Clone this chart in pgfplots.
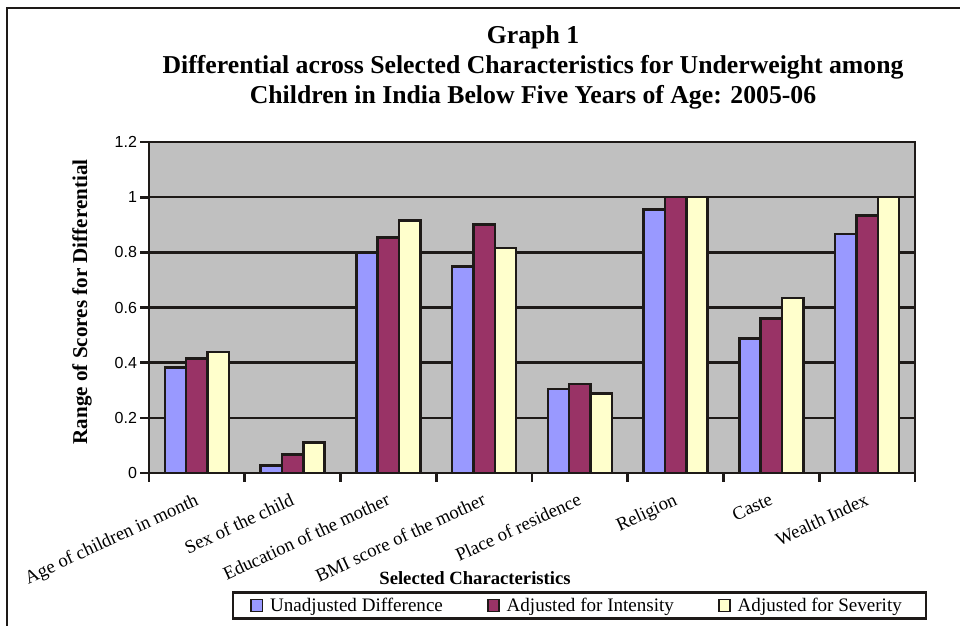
\documentclass[border=0pt]{standalone}
\usepackage{fontspec}
\setmainfont{Liberation Serif}
\newfontfamily\sansf{Liberation Sans}
\usepackage{pgfplots}
\usepackage{pgfplotstable}
\pgfplotsset{compat=1.18}

\definecolor{unadj}{HTML}{9999FF}
\definecolor{intens}{HTML}{993366}
\definecolor{sever}{HTML}{FFFFCC}
\definecolor{plotbg}{HTML}{C0C0C0}
\definecolor{framec}{HTML}{1E1A18}

% x = position of the category, y = range of scores
\pgfplotstableread{
x    unadj  intens sever
0.5  0.382  0.415  0.438
1.5  0.027  0.067  0.110
2.5  0.798  0.853  0.916
3.5  0.749  0.901  0.816
4.5  0.305  0.322  0.288
5.5  0.955  1.000  1.000
6.5  0.488  0.561  0.634
7.5  0.866  0.933  1.000
}\scores

\pgfplotsset{
  sq legend/.style={legend image code/.code={
      \draw[##1, line width=1.3pt] (0pt,-4.5pt) rectangle (8.5pt,4.5pt);}},
}

\begin{document}
\begin{tikzpicture}
\useasboundingbox (0,0) rectangle (720pt,-468.75pt);
% outer frame
\draw[line width=2.2pt, color=framec] (5.25pt,-490pt) -- (5.25pt,-6pt) -- (740pt,-6pt);
% title
\node[font=\bfseries\fontsize{19.3}{22.5}\selectfont, align=center, inner sep=0pt]
  at (399.75pt,-50.25pt)
  {Graph 1\\Differential across Selected Characteristics for Underweight among\\Children in India Below Five Years of Age: 2005-06};

\begin{axis}[
  at={(111.75pt,-354.75pt)}, anchor=south west,
  scale only axis, width=574.5pt, height=248.25pt,
  xmin=0, xmax=8, ymin=0, ymax=1.2,
  axis background/.style={fill=plotbg},
  axis line style={line width=2pt, color=framec},
  ybar=0pt, bar width=16pt,
  ymajorgrids, grid style={line width=1.8pt, color=framec},
  tick align=outside, major tick length=6.5pt,
  tick style={line width=2pt, color=framec},
  xtick pos=bottom, ytick pos=left,
  ytick={0,0.2,0.4,0.6,0.8,1,1.2},
  yticklabels={0,0.2,0.4,0.6,0.8,1,1.2},
  yticklabel style={font=\sansf\fontsize{12}{14}\selectfont, xshift=1pt},
  % tick marks at the category boundaries
  xtick={0,1,2,3,4,5,6,7,8},
  xticklabels={},
  % category names at the category centres
  extra x ticks={0.5,1.5,2.5,3.5,4.5,5.5,6.5,7.5},
  extra x tick labels={Age of children in month, Sex of the child, Education of the mother,
    BMI score of the mother, Place of residence, Religion, Caste, Wealth Index},
  extra x tick style={grid=none, major tick length=0pt,
    tick style={draw=none},
    xticklabel style={rotate=25, anchor=north east, inner sep=0pt,
      font=\fontsize{14}{16}\selectfont, yshift=-12pt, xshift=-8pt}},
  xlabel={Selected Characteristics},
  xlabel style={at={(axis description cs:0.4256,-0.317)}, anchor=center,
    font=\bfseries\fontsize{14}{16}\selectfont},
  ylabel={Range of Scores for Differential},
  ylabel style={at={(axis description cs:-0.0875,0.517)}, anchor=center,
    font=\bfseries\fontsize{15.8}{18}\selectfont},
  legend columns=3,
  legend style={at={(axis description cs:0.562,-0.4003)}, anchor=center,
    draw=framec, line width=1.8pt, font=\fontsize{14.3}{16}\selectfont,
    inner xsep=13pt, inner ysep=2pt,
    nodes={inner xsep=5pt},
    /tikz/every even column/.append style={column sep=28pt}},
  legend cell align=left,
]
\addplot[fill=unadj, draw=framec, line width=1.9pt, sq legend] table[x=x, y=unadj] {\scores};
\addplot[fill=intens, draw=framec, line width=1.9pt, sq legend] table[x=x, y=intens] {\scores};
\addplot[fill=sever, draw=framec, line width=1.9pt, sq legend] table[x=x, y=sever] {\scores};
\legend{Unadjusted Difference, Adjusted for Intensity, Adjusted for Severity}
\end{axis}
\end{tikzpicture}
\end{document}
